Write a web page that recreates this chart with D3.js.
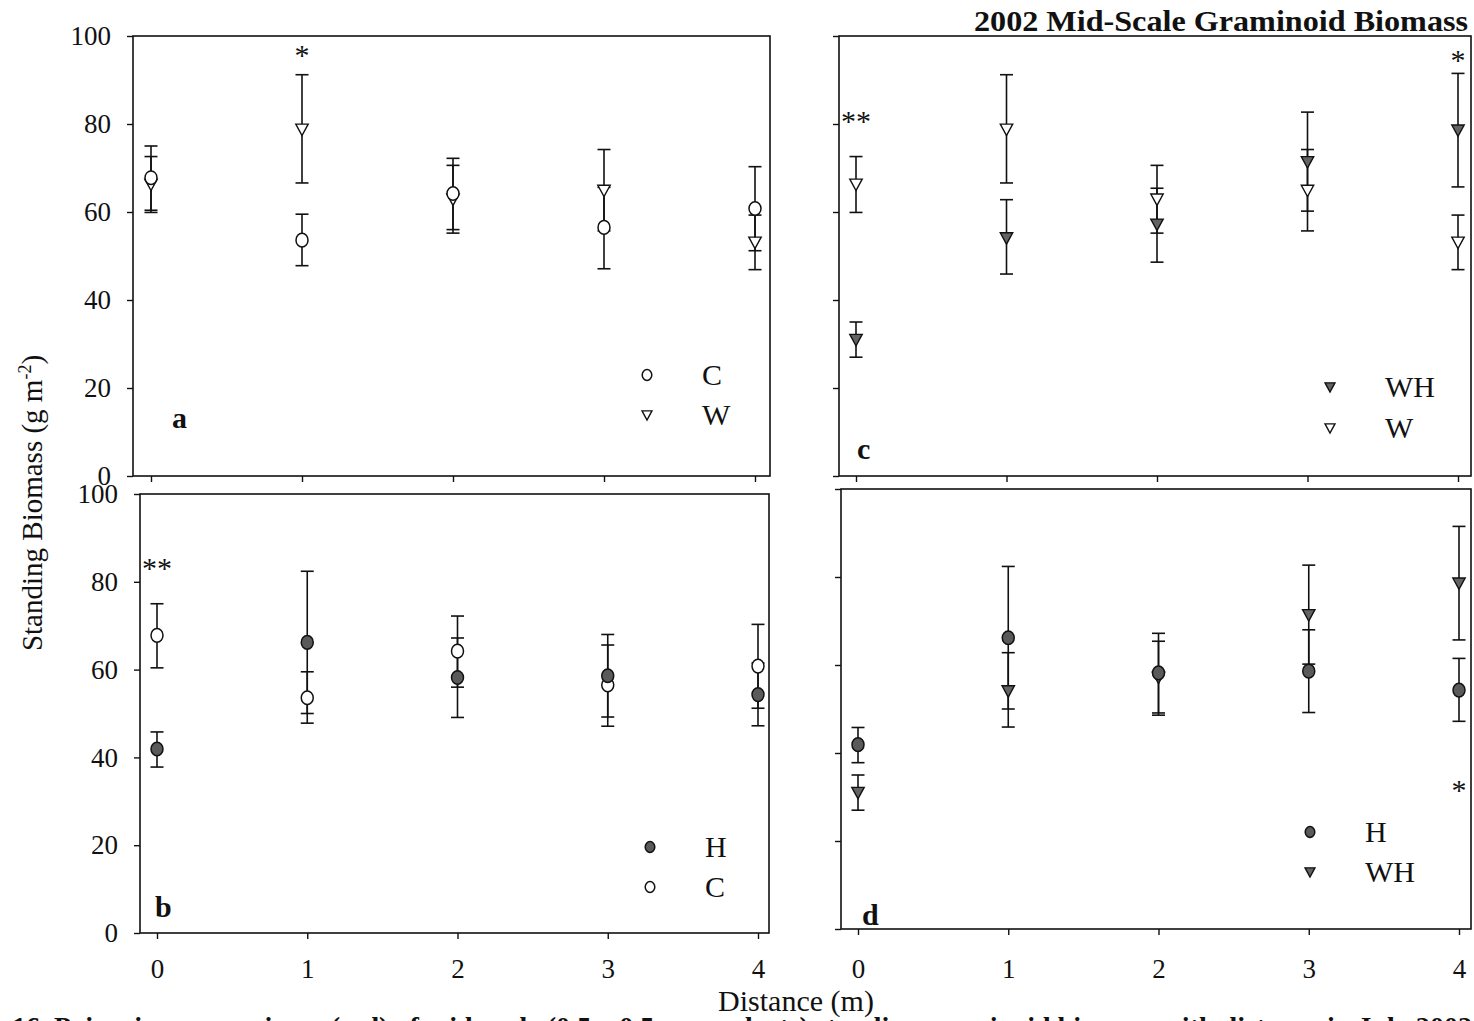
<!DOCTYPE html>
<html>
<head>
<meta charset="utf-8">
<script src="https://cdn.jsdelivr.net/npm/d3@7"></script>
<style>
  html, body { margin: 0; padding: 0; background: #fff; }
  svg { display: block; }
  text { font-family: "Liberation Serif", "DejaVu Serif", serif; fill: #111; }
</style>
</head>
<body>
<svg id="chart" width="1474" height="1021"></svg>
<script>
// ---------------- data ----------------
const distance = [0, 1, 2, 3, 4];
const yTicks = [0, 20, 40, 60, 80, 100];

// C = control (open circle)
const cMean = [67.8, 53.6, 64.2, 56.5, 60.8];
const cLow  = [60.4, 47.8, 56.0, 47.1, 51.2];
const cHigh = [75.0, 59.5, 72.2, 65.6, 70.3];
// W (open down triangle)
const wMean = [66.3, 78.8, 62.9, 64.9, 53.1];
const wLow  = [59.9, 66.6, 55.2, 55.7, 46.9];
const wHigh = [72.6, 91.2, 70.6, 74.2, 59.3];
// H (filled circle)
const hMean = [41.9, 66.2, 58.2, 58.6, 54.3];
const hLow  = [37.8, 50.0, 49.1, 49.2, 47.2];
const hHigh = [45.8, 82.4, 67.2, 68.0, 61.5];
// WH (filled down triangle)
const whMean = [31.0, 54.1, 57.2, 71.4, 78.6];
const whLow  = [27.0, 45.9, 48.6, 60.2, 65.7];
const whHigh = [35.0, 62.8, 65.4, 82.7, 91.5];

const panelLetters = ["a", "b", "c", "d"];
const panelSeries = [["C", "W"], ["H", "C"], ["WH", "W"], ["H", "WH"]];
// significance marks: [panel, distance, value, text]
const sigMarks = [["a", 1, 97, "*"], ["b", 0, 84.5, "**"], ["c", 0, 82, "**"], ["c", 4, 96, "*"], ["d", 4, 33, "*"]];

const titleText = "2002 Mid-Scale Graminoid Biomass";
const xTitle = "Distance (m)";
const captionText = "16. Pair-wise comparisons (a-d) of mid-scale (0.5 x 0.5 m quadrats) standing graminoid biomass with distance in July 2002";

// ---------------- build ----------------
const series = {
  C:  {mean: cMean,  low: cLow,  high: cHigh,  shape: "circle",   fill: "#fff"},
  W:  {mean: wMean,  low: wLow,  high: wHigh,  shape: "triangle", fill: "#fff"},
  H:  {mean: hMean,  low: hLow,  high: hHigh,  shape: "circle",   fill: "#5a5a5a"},
  WH: {mean: whMean, low: whLow, high: whHigh, shape: "triangle", fill: "#636363"}
};

// layout (pixel geometry of each panel in the scanned figure)
const layout = {
  a: {left: 133, right: 770, top: 36, bottom: 476, x0: 151, x4: 755, yLabels: true,  xLabels: false, xPad: 20, legendX: 647, legendY: [375, 415], letterX: 172, letterY: 428},
  b: {left: 140, right: 769, top: 494, bottom: 933, x0: 157, x4: 758, yLabels: true,  xLabels: true,  xPad: 20, legendX: 650, legendY: [847, 887], letterX: 155, letterY: 917},
  c: {left: 839, right: 1471, top: 36, bottom: 476, x0: 856, x4: 1458, yLabels: false, xLabels: false, xPad: 20, legendX: 1330, legendY: [387, 428], letterX: 857, letterY: 459},
  d: {left: 841, right: 1471, top: 489, bottom: 929, x0: 858, x4: 1459, yLabels: false, xLabels: true,  xPad: 24, legendX: 1310, legendY: [832, 872], letterX: 862, letterY: 925}
};

const svg = d3.select("#chart");
svg.append("rect").attr("width", 1474).attr("height", 1021).attr("fill", "#fff");

function marker(g, shape, fill, cx, cy, s) {
  if (shape === "circle") {
    g.append("ellipse").attr("cx", cx).attr("cy", cy).attr("rx", 6 * s).attr("ry", 6.8 * s)
      .attr("fill", fill).attr("stroke", "#111").attr("stroke-width", 1.5);
  } else {
    const w = 6.2 * s, h1 = 5.2 * s, h2 = 6.2 * s;
    g.append("path").attr("d", `M${cx - w},${cy - h1}L${cx + w},${cy - h1}L${cx},${cy + h2}Z`)
      .attr("fill", fill).attr("stroke", "#111").attr("stroke-width", 1.4).attr("stroke-linejoin", "miter");
  }
}

panelLetters.forEach((p, pi) => {
  const L = layout[p];
  const x = d3.scaleLinear().domain([0, 4]).range([L.x0, L.x4]);
  const y = d3.scaleLinear().domain([0, 100]).range([L.bottom, L.top]);
  const g = svg.append("g");

  // frame
  g.append("rect").attr("x", L.left).attr("y", L.top)
    .attr("width", L.right - L.left).attr("height", L.bottom - L.top)
    .attr("fill", "none").attr("stroke", "#111").attr("stroke-width", 1.6);

  // y axis
  const ya = d3.axisLeft(y).tickValues(yTicks).tickSize(6).tickPadding(16)
    .tickFormat(L.yLabels ? d3.format("d") : () => "");
  const yg = g.append("g").attr("transform", `translate(${L.left},0)`).call(ya);
  yg.select(".domain").remove();
  yg.selectAll("line").attr("stroke", "#111").attr("stroke-width", 1.4);
  yg.selectAll("text").attr("font-size", 27).attr("font-family", "Liberation Serif").attr("fill", "#111");

  // x axis
  const xa = d3.axisBottom(x).tickValues(distance).tickSize(6).tickPadding(L.xPad)
    .tickFormat(L.xLabels ? d3.format("d") : () => "");
  const xg = g.append("g").attr("transform", `translate(0,${L.bottom})`).call(xa);
  xg.select(".domain").remove();
  xg.selectAll("line").attr("stroke", "#111").attr("stroke-width", 1.4);
  xg.selectAll("text").attr("font-size", 27).attr("font-family", "Liberation Serif").attr("fill", "#111");

  // error bars then markers
  const keys = panelSeries[pi];
  keys.forEach(k => {
    const s = series[k];
    distance.forEach((d, i) => {
      const cx = x(d);
      g.append("line").attr("x1", cx).attr("x2", cx).attr("y1", y(s.low[i])).attr("y2", y(s.high[i]))
        .attr("stroke", "#111").attr("stroke-width", 1.6);
      [s.low[i], s.high[i]].forEach(v => {
        g.append("line").attr("x1", cx - 6.5).attr("x2", cx + 6.5).attr("y1", y(v)).attr("y2", y(v))
          .attr("stroke", "#111").attr("stroke-width", 1.6);
      });
    });
  });
  keys.slice().reverse().forEach(k => {
    const s = series[k];
    distance.forEach((d, i) => marker(g, s.shape, s.fill, x(d), y(s.mean[i]), 1));
  });

  // legend
  keys.forEach((k, j) => {
    const s = series[k];
    marker(g, s.shape, s.fill, L.legendX, L.legendY[j], 0.8);
    g.append("text").attr("x", L.legendX + 55).attr("y", L.legendY[j] + 10)
      .attr("font-size", 30).text(k);
  });

  // panel letter
  g.append("text").attr("x", L.letterX).attr("y", L.letterY)
    .attr("font-size", 30).attr("font-weight", "bold").text(p);

  // significance marks
  sigMarks.filter(m => m[0] === p).forEach(m => {
    g.append("text").attr("x", x(m[1])).attr("y", y(m[2]) + 16)
      .attr("text-anchor", "middle").attr("font-size", 30).text(m[3]);
  });
});

// title
svg.append("text").attr("x", 1468).attr("y", 31).attr("text-anchor", "end")
  .attr("font-size", 29).attr("font-weight", "bold")
  .attr("textLength", 494).attr("lengthAdjust", "spacingAndGlyphs").text(titleText);

// y-axis title
const yt = svg.append("text").attr("transform", "translate(42,503) rotate(-90)")
  .attr("text-anchor", "middle").attr("font-size", 29);
yt.append("tspan").text("Standing Biomass (g m");
yt.append("tspan").attr("font-size", 18).attr("dy", -11).text("-2");
yt.append("tspan").attr("dy", 11).text(")");

// x-axis title
svg.append("text").attr("x", 796).attr("y", 1011).attr("text-anchor", "middle")
  .attr("font-size", 30).text(xTitle);

// partially visible caption (cut off by the page edge, as in the scanned figure)
svg.append("text").attr("x", 12).attr("y", 1036).attr("font-size", 28).attr("font-weight", "bold")
  .attr("textLength", 1460).attr("lengthAdjust", "spacingAndGlyphs").text(captionText);
</script>
</body>
</html>
